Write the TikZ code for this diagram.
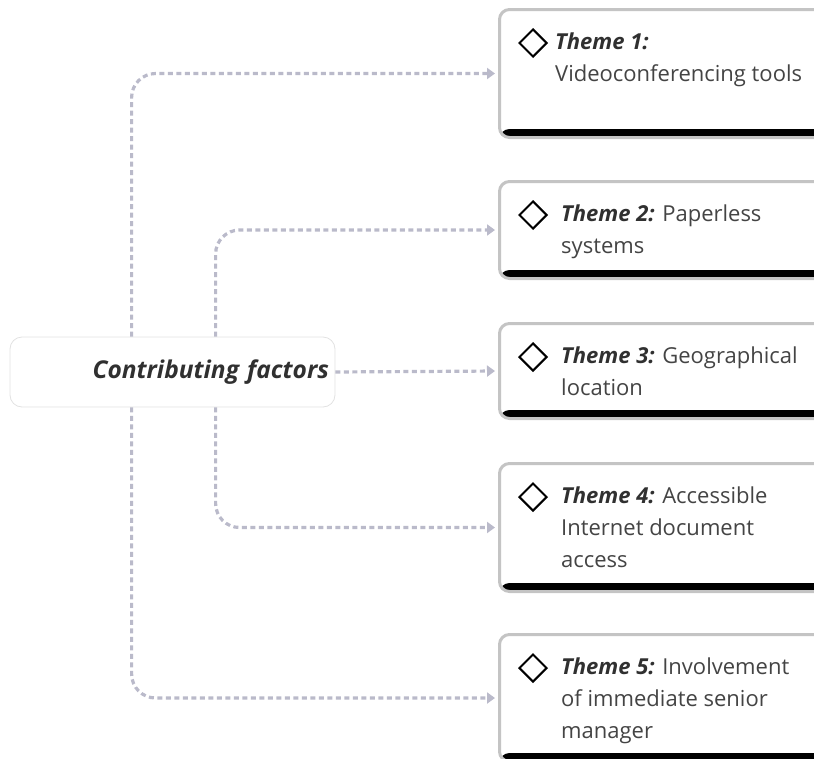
\documentclass[tikz,border=0pt]{standalone}
\usepackage{fontspec}
\setmainfont{Open Sans}
\definecolor{linkgray}{RGB}{186, 186, 202}
\definecolor{edgegray}{RGB}{196, 196, 196}
\definecolor{hubgray}{RGB}{226, 226, 226}
\definecolor{textgray}{RGB}{68, 68, 68}
\definecolor{labelgray}{RGB}{48, 48, 48}
\usepackage{tikz}
\usetikzlibrary{shapes.geometric, arrows.meta, positioning, calc}

\begin{document}
\begin{tikzpicture}[x=1pt, y=-1pt,
  link/.style={line width=3.2pt, linkgray, dash pattern=on 5pt off 3.5pt, rounded corners=24pt,
    -{Triangle[length=8pt, width=11pt]}, shorten >=3pt},
  hub/.style={draw=hubgray, line width=0.8pt, rounded corners=12pt, fill=white, minimum height=70pt,
    text width=313pt, align=right, inner sep=6pt, text=labelgray,
    font=\fontsize{24.5}{28}\selectfont\bfseries\itshape},
  themebox/.style={draw=edgegray, line width=3pt, rounded corners=10pt, fill=white, minimum width=340pt,
    anchor=north west, inner sep=0pt,
    path picture={\fill[black] ([yshift=8.5pt]path picture bounding box.south west) rectangle (path picture bounding box.south east);}},
  themetext/.style={anchor=north west, inner sep=0pt, align=left, text=textgray,
    font=\fontsize{22}{32}\selectfont},
  themeicon/.style={draw, diamond, aspect=1, line width=2pt, minimum size=28pt, inner sep=0pt},
]
  \useasboundingbox (0,0) rectangle (814,758);
  \clip (0,0) rectangle (814,758);

  % Theme boxes
  \node[themebox, minimum height=128pt] (t1) at (498,8) {};
  \node[themebox, minimum height=97pt] (t2) at (498,180) {};
  \node[themebox, minimum height=95pt] (t3) at (498,322) {};
  \node[themebox, minimum height=128pt] (t4) at (498,462) {};
  \node[themebox, minimum height=127pt] (t5) at (498,633) {};

  \foreach \t in {t1, t2, t3, t4, t5}
    \node[themeicon] (\t icon) at ([xshift=35pt, yshift=-35pt]\t.north west) {};

  \node[themetext] (t1text) at ([xshift=57pt, yshift=-25pt]t1.north west)
    {\textcolor{labelgray}{\textbf{\textit{Theme 1:}}}\\Videoconferencing tools};
  \node[themetext] (t2text) at ([xshift=63pt, yshift=-25pt]t2.north west)
    {\textcolor{labelgray}{\textbf{\textit{Theme 2:}}} Paperless\\systems};
  \node[themetext] (t3text) at ([xshift=63pt, yshift=-25pt]t3.north west)
    {\textcolor{labelgray}{\textbf{\textit{Theme 3:}}} Geographical\\location};
  \node[themetext] (t4text) at ([xshift=63pt, yshift=-25pt]t4.north west)
    {\textcolor{labelgray}{\textbf{\textit{Theme 4:}}} Accessible\\Internet document\\access};
  \node[themetext] (t5text) at ([xshift=63pt, yshift=-25pt]t5.north west)
    {\textcolor{labelgray}{\textbf{\textit{Theme 5:}}} Involvement\\of immediate senior\\manager};

  % Central factor
  \node[hub] (hub) at (172.5,372) {Contributing factors};

  % Connectors
  \draw[link] ([xshift=122pt]hub.north west) |- (t1.west);
  \draw[link] ([xshift=206pt]hub.north west) |- (t2.west);
  \draw[link] (hub.east) -- (t3.west);
  \draw[link] ([xshift=206pt]hub.south west) |- (t4.west);
  \draw[link] ([xshift=122pt]hub.south west) |- (t5.west);
\end{tikzpicture}
\end{document}
